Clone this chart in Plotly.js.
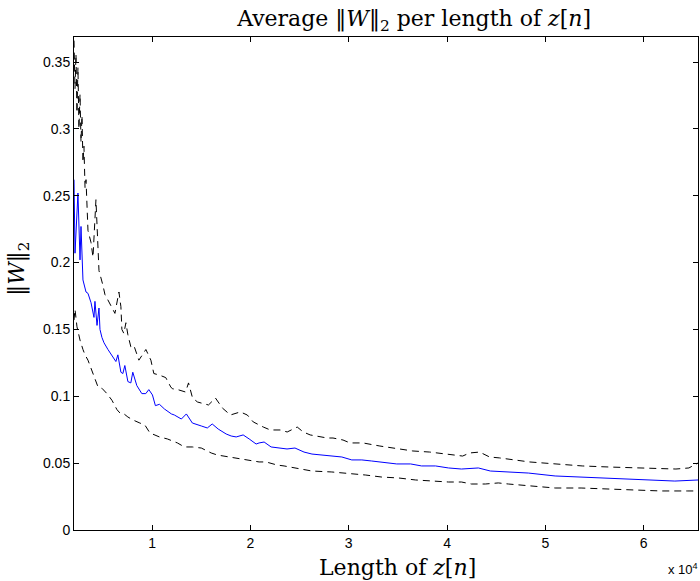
<!DOCTYPE html>
<html>
<head>
<meta charset="utf-8">
<script src="https://cdn.plot.ly/plotly-3.0.1.min.js"></script>
<style>html,body{margin:0;padding:0;background:#fff;}#chart{width:700px;height:581px;}</style>
</head>
<body>
<div id="chart"></div>
<script>
// Mean ||W||_2 (blue)
const meanX = [2048,2100,2150,2450,2660,2760,2960,3270,3470,3780,3980,4080,4180,4390,4590,4690,4890,5100,5500,6010,6310,6510,6820,7020,7220,7530,7830,8030,8440,8950,9350,9660,10030,10330,10740,11250,11960,12260,12970,13480,14090,15000,15610,16110,16720,17530,18040,18550,19260,19870,20580,20880,21390,22100,22910,23720,24530,24940,25450,26260,27270,28280,29300,30310,31330,32340,33760,34880,36300,37410,38830,40150,41470,43190,44410,46240,48270,51000,53640,56380,59120,61150,63180,65536];
const meanY = [0.262,0.227,0.207,0.252,0.202,0.227,0.187,0.178,0.177,0.170,0.163,0.159,0.171,0.153,0.166,0.150,0.144,0.140,0.135,0.129,0.126,0.131,0.118,0.117,0.123,0.111,0.110,0.118,0.108,0.102,0.102,0.105,0.101,0.093,0.094,0.0905,0.0868,0.0860,0.0830,0.0868,0.0800,0.0778,0.0763,0.0793,0.0755,0.0718,0.0703,0.0696,0.0711,0.0681,0.0643,0.0651,0.0658,0.0621,0.0613,0.0606,0.0613,0.0598,0.0583,0.0568,0.0561,0.0553,0.0546,0.0524,0.0524,0.0516,0.0501,0.0494,0.0494,0.0479,0.0479,0.0464,0.0456,0.0464,0.0441,0.0434,0.0426,0.0404,0.0396,0.0389,0.0381,0.0374,0.0366,0.0374];

// Upper bound (dashed)
const upperX = [2048,2150,2250,2350,2450,2550,2660,2760,2860,2960,3060,3170,3270,3370,3470,3780,3980,4280,4490,4590,4990,5200,5500,6010,6210,6620,6820,6920,7120,7330,7530,7830,8140,8650,9360,9870,10170,10680,11380,11890,12080,12380,13400,13700,14110,14620,15730,16440,17150,17960,18970,19680,20290,21310,22020,23030,23740,24760,25370,26080,27800,28400,29420,30130,31450,33170,34900,36520,38240,39970,41590,42300,43320,44330,45350,48390,51130,53760,56500,59240,61870,63290,64610,65536];
const upperY = [0.366,0.330,0.356,0.312,0.346,0.300,0.326,0.290,0.310,0.275,0.287,0.256,0.262,0.234,0.224,0.215,0.204,0.247,0.215,0.194,0.183,0.176,0.172,0.165,0.162,0.178,0.167,0.150,0.147,0.155,0.146,0.137,0.138,0.127,0.135,0.127,0.117,0.116,0.114,0.107,0.1055,0.1055,0.1032,0.110,0.0987,0.0957,0.0935,0.0987,0.0912,0.0860,0.0883,0.0860,0.0808,0.0770,0.0748,0.0748,0.0733,0.0770,0.0733,0.0711,0.0688,0.0688,0.0673,0.0651,0.0651,0.0628,0.0606,0.0591,0.0583,0.0568,0.0553,0.0576,0.0583,0.0546,0.0539,0.0509,0.0494,0.0479,0.0471,0.0464,0.0456,0.0456,0.0464,0.0501];

// Lower bound (dashed)
const lowerX = [2048,2150,2350,2660,2960,3170,3470,3980,4180,4490,4890,5400,5910,6420,6720,7020,7530,8040,8750,9260,9770,10230,10740,11550,12570,13280,14090,15000,16010,16620,17840,19360,20070,20880,21590,22710,23420,24640,25250,26260,28280,29700,31730,33360,35080,36810,38430,40150,41470,42480,43900,45220,46240,48270,51000,53640,56380,59120,61760,64500,65536];
const lowerY = [0.157,0.165,0.152,0.142,0.135,0.131,0.127,0.117,0.114,0.107,0.106,0.102,0.097,0.090,0.0875,0.0875,0.0845,0.0823,0.080,0.0785,0.0726,0.0711,0.0696,0.0681,0.0651,0.0621,0.0621,0.0613,0.0576,0.0561,0.0546,0.0531,0.0524,0.0509,0.0509,0.0486,0.0479,0.0464,0.0456,0.0441,0.0434,0.0426,0.0411,0.0396,0.0389,0.0374,0.0366,0.0359,0.0359,0.0344,0.0344,0.0352,0.0344,0.0329,0.0314,0.0314,0.0307,0.0299,0.0292,0.0292,0.0292];

const xTickVals = [10000,20000,30000,40000,50000,60000];
const xTickText = ['1','2','3','4','5','6'];
const yTickVals = [0,0.05,0.1,0.15,0.2,0.25,0.3,0.35];
const yTickText = ['0','0.05','0.1','0.15','0.2','0.25','0.3','0.35'];

const traces = [
  {x: upperX, y: upperY, mode: 'lines', line: {color: '#000000', width: 1, dash: '7px,5px'}, hoverinfo: 'skip'},
  {x: lowerX, y: lowerY, mode: 'lines', line: {color: '#000000', width: 1, dash: '7px,5px'}, hoverinfo: 'skip'},
  {x: meanX, y: meanY, mode: 'lines', line: {color: '#0000ff', width: 1}, hoverinfo: 'skip'}
];

const tickFont = {family: 'Liberation Sans, Arial, sans-serif', size: 14, color: '#000'};
const serif = 'DejaVu Serif, serif';

const layout = {
  width: 700, height: 581,
  margin: {l: 74, r: 2, t: 37, b: 51},
  paper_bgcolor: '#fff', plot_bgcolor: '#fff',
  showlegend: false,
  title: {text: 'Average ‖<i>W</i>‖<sub>2</sub> per length of <i>z</i>[<i>n</i>]',
          font: {family: serif, size: 22, color: '#000'},
          x: 0.545, xref: 'paper', xanchor: 'center', y: 0.968, yref: 'container', yanchor: 'middle'},
  xaxis: {range: [2048, 65536], tickvals: xTickVals, ticktext: xTickText,
          ticks: 'inside', ticklen: 5, tickcolor: '#000', showline: true, linecolor: '#000', linewidth: 1,
          mirror: 'ticks', showgrid: false, zeroline: false, tickfont: tickFont},
  yaxis: {range: [0, 0.3687], tickvals: yTickVals, ticktext: yTickText,
          ticks: 'inside', ticklen: 5, tickcolor: '#000', showline: true, linecolor: '#000', linewidth: 1,
          mirror: 'ticks', showgrid: false, zeroline: false, tickfont: tickFont},
  annotations: [
    {text: 'Length of <i>z</i>[<i>n</i>]', xref: 'paper', yref: 'paper', x: 0.518, y: -0.046,
     xanchor: 'center', yanchor: 'top', showarrow: false, font: {family: serif, size: 22, color: '#000'}},
    {text: '‖<i>W</i>‖<sub>2</sub>', xref: 'paper', yref: 'paper', x: -0.088, y: 0.53,
     xanchor: 'center', yanchor: 'middle', textangle: -90, showarrow: false, font: {family: serif, size: 22, color: '#000'}},
    {text: 'x 10<sup>4</sup>', xref: 'paper', yref: 'paper', x: 1.003, y: -0.058,
     xanchor: 'right', yanchor: 'top', showarrow: false, font: {family: 'Liberation Sans, Arial, sans-serif', size: 13, color: '#000'}}
  ]
};

Plotly.newPlot('chart', traces, layout, {displayModeBar: false, staticPlot: true});
</script>
</body>
</html>
